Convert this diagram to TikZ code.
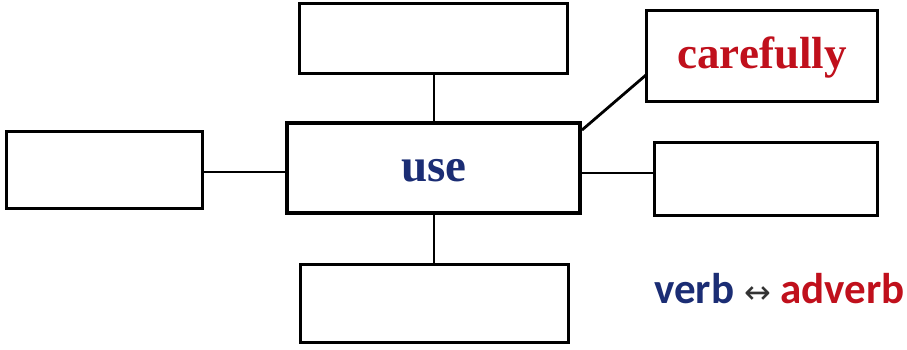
\documentclass[tikz,border=0pt]{standalone}
\usepackage{fontspec}
\setmainfont{Liberation Serif}
\newfontfamily\carl{Carlito}
\newfontfamily\dejav{DejaVu Sans}
\definecolor{dblue}{HTML}{1B2D74}
\definecolor{dred}{HTML}{C0101C}
\begin{document}
\begin{tikzpicture}[x=1pt,y=-1pt,
  box/.style={draw=black,line width=3pt,fill=white},
  link/.style={draw=black,line width=2.8pt}]
\useasboundingbox (0,0) rectangle (907,349);
\fill[white] (0,0) rectangle (907,349);
% boxes
\path[box] (299,3) rectangle (567,73);
\path[box,line width=4.5pt] (287,123) rectangle (580,213);
\path[box] (646,10) rectangle (877,101);
\path[box] (6,131) rectangle (202,208);
\path[box] (654,142) rectangle (877,215);
\path[box] (300,264) rectangle (568,342);
% connector end points
\coordinate (topB) at (434,73);
\coordinate (cTop) at (434,121);
\coordinate (cBot) at (434,215);
\coordinate (botT) at (434,264);
\coordinate (leftR) at (202,172);
\coordinate (cLeft) at (285,172);
\coordinate (cRight) at (582,173);
\coordinate (rightL) at (654,173);
\coordinate (cCorner) at (582,130);
\coordinate (carL) at (646,75);
\draw[link] (topB) -- (cTop);
\draw[link] (cBot) -- (botT);
\draw[link] (leftR) -- (cLeft);
\draw[link] (cRight) -- (rightL);
\draw[link] (cCorner) -- (carL);
% texts
\node[text=dblue,font=\fontsize{47}{47}\selectfont\bfseries] (use) at (434,171) {use};
\node[text=dred,font=\fontsize{45}{45}\selectfont\bfseries] (car) at (762,58) {carefully};
\node[anchor=base east,inner sep=0pt,font=\fontsize{43}{43}\selectfont\carl\bfseries] (va) at (905,303)
  {\textcolor{dblue}{verb} \textcolor{black!80}{\dejav\mdseries\fontsize{32}{32}\selectfont↔} \textcolor{dred}{adverb}};
\end{tikzpicture}
\end{document}
